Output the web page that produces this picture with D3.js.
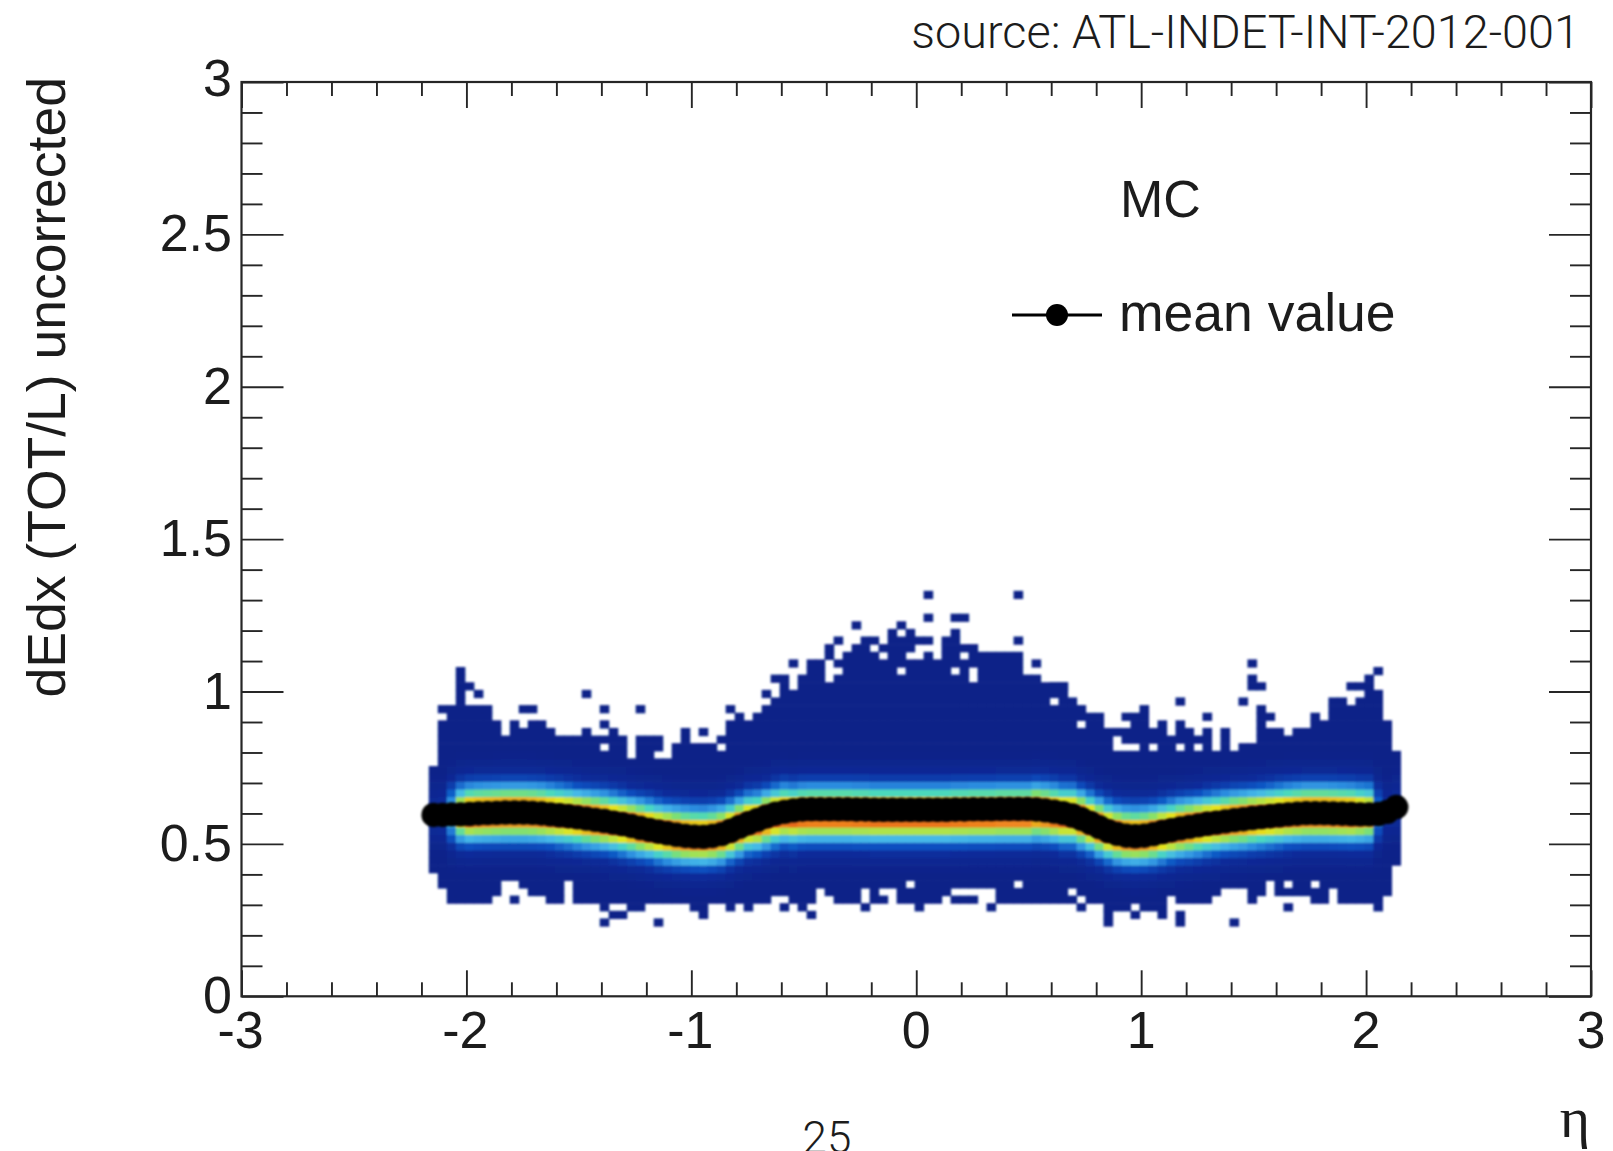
<!DOCTYPE html>
<html><head><meta charset="utf-8">
<script src="https://cdn.jsdelivr.net/npm/d3@7"></script>
<style>html,body{margin:0;padding:0;background:#fff;overflow:hidden}svg{display:block}text{font-family:"Liberation Sans",Arial,sans-serif;fill:#1c1c1c}</style>
</head><body><div id="c"></div>
<script>
// ---- data ----
const etaDomain=[-3,3], dedxDomain=[0,3];
const xMajor=[-3,-2,-1,0,1,2,3];
const xMinor=[-2.8,-2.6,-2.4,-2.2,-1.8,-1.6,-1.4,-1.2,-0.8,-0.6,-0.4,-0.2,0.2,0.4,0.6,0.8,1.2,1.4,1.6,1.8,2.2,2.4,2.6,2.8];
const yMajor=[0,0.5,1,1.5,2,2.5,3];
const yMinor=[0.1,0.2,0.3,0.4,0.6,0.7,0.8,0.9,1.1,1.2,1.3,1.4,1.6,1.7,1.8,1.9,2.1,2.2,2.3,2.4,2.6,2.7,2.8,2.9];
const yLabels=["0","0.5","1","1.5","2","2.5","3"];
const binStart=-2.166, binWidth=0.04, rowStart=0.0045, rowWidth=0.025;
// upper edge of the filled block per eta column, in rows
const topEdge=[30,36,38,43,38,38,38,36,34,36,35,36,36,35,34,34,34,35,34,32,35,34,31,34,34,34,31,33,35,33,33,33,34,36,37,36,37,38,39,42,40,42,44,44,46,45,45,46,47,45,46,48,47,48,47,45,44,47,48,46,46,45,45,45,45,45,42,42,41,41,41,39,38,37,37,35,35,35,37,38,35,36,34,36,35,34,35,32,35,32,33,33,38,35,35,34,35,35,37,36,39,39,38,39,40,40,36,32];
// lower edge of the filled block per eta column, in rows
const bottomEdge=[16,14,12,12,12,12,12,13,15,15,14,13,13,12,12,15,12,12,12,11,12,12,11,11,12,12,12,12,12,11,10,12,12,11,12,11,12,12,13,13,12,12,12,14,13,12,12,12,14,12,14,14,12,12,11,12,12,13,14,14,14,14,14,12,12,12,12,12,12,12,12,12,11,12,12,10,11,11,10,11,11,10,13,12,12,12,12,13,14,14,14,13,13,14,13,13,13,13,12,12,14,12,12,12,12,11,13,17];
// isolated filled cells [column,row]
const strayCells=[[1,37],[4,40],[5,39],[10,37],[11,37],[17,39],[19,37],[19,35],[19,33],[23,37],[30,34],[33,37],[37,39],[38,41],[40,43],[45,46],[47,48],[49,46],[52,48],[55,52],[55,49],[55,46],[58,49],[59,49],[65,52],[65,46],[67,43],
[76,34],[77,36],[83,38],[86,36],[90,38],[91,43],[91,41],[91,40],[92,40],[93,36],[102,40],[103,40],[104,41],[104,40],[105,42],[69,40],[70,40],
[9,12],[19,9],[20,10],[21,10],[25,9],[39,11],[41,11],[42,10],[48,11],[50,12],[58,12],[59,12],[60,12],[62,11],[75,9],[83,10],[83,9],[89,9],[91,12],[95,11]];
// white cells inside the filled block [column,row]
const holeCells=[[32,32],[25,31],[44,41],[44,42],[44,43],[45,44],[45,42],[50,44],[52,42],[53,44],[54,44],[54,45],[58,42],[59,44],[60,41],[60,42],[69,38],[72,35],[76,32],[76,33],[77,32],[78,32],[80,32],[83,32],[85,32],[72,12],[78,11],[65,14],[71,13],[93,14],[95,14],[98,14],[53,14]];
// mean value per column
const meanValues=[.595,.595,.597,.597,.598,.600,.601,.602,.603,.603,.603,.602,.600,.597,.594,.591,.587,.583,.579,.575,.570,.565,.559,.552,.546,.540,.535,.530,.526,.524,.523,.526,.532,.543,.556,.568,.579,.590,.599,.605,.610,.613,.614,.614,.614,.614,.614,.613,.613,.612,.612,.612,.612,.612,.612,.612,.612,.612,.613,.613,.614,.614,.614,.615,.615,.615,.615,.613,.610,.606,.601,.593,.582,.569,.555,.542,.533,.527,.525,.527,.532,.539,.545,.551,.556,.561,.566,.570,.574,.578,.581,.585,.588,.591,.594,.597,.599,.601,.601,.601,.600,.599,.598,.597,.597,.598,.605,.621];
// colour level against distance from the ridge, in rows
const profileDist=[0,.8,1.3,1.9,2.45,3.2,3.7,4.2,5.3,6.5,8];
const profileLevel=[1,.95,.85,.7,.58,.42,.33,.2,.08,.03,0];
// ridge offset below the mean, in rows [first column,last column,offset]
const ridgeOffsets=[[36,39,.3],[40,66,.6],[67,70,.3]];
// columns where the ridge fades at the ends [column,factor]
const bandFade=[[0,.1],[1,.12],[2,.45],[3,.85],[103,.95],[104,.9],[105,.3],[106,.1],[107,.1]];
const paletteLevels=[0,.08,.2,.33,.42,.5,.58,.7,.85,1];
const paletteColours=["#0c2388","#0a2a98","#0a50c0","#2d8fe0","#45b8e8","#48d8c0","#80e070","#e6e61e","#f08420","#d0140c"];
const legendLabel="mean value", tagLabel="MC", yTitle="dEdx (TOT/L) uncorrected", xTitle="η", source="source: ATL-INDET-INT-2012-001", pageNumber="25";

// ---- drawing ----
const W=1613,H=1151,L=241.5,R=1591,T=82,B=996.3;
const x=d3.scaleLinear().domain(etaDomain).range([L,R]);
const y=d3.scaleLinear().domain(dedxDomain).range([B,T]);
const svg=d3.select("#c").append("svg").attr("width",W).attr("height",H);
svg.append("defs").append("filter").attr("id","soft").attr("filterUnits","userSpaceOnUse")
  .attr("x",0).attr("y",0).attr("width",W).attr("height",H)
  .append("feGaussianBlur").attr("stdDeviation",0.8);
const level=d3.scaleLinear().domain(profileDist).range(profileLevel).clamp(true);
const colour=d3.scaleLinear().domain(paletteLevels).range(paletteColours).interpolate(d3.interpolateRgb);
const fade=new Map(bandFade);
const holes=new Set(holeCells.map(d=>d.join("_")));
const cells=[];
topEdge.forEach((t,i)=>{for(let r=bottomEdge[i];r<t;r++){if(!holes.has(i+"_"+r))cells.push([i,r]);}});
strayCells.forEach(c=>cells.push(c));
const rowMid=r=>rowStart+(r+.5)*rowWidth;
const offsetOf=i=>{const s=ridgeOffsets.find(o=>i>=o[0]&&i<=o[1]);return s?s[2]:0;};
function cellLevel([i,r]){
  const d=Math.abs(rowMid(r)-meanValues[i]+offsetOf(i)*rowWidth)/rowWidth;
  return level(d)*(fade.has(i)?fade.get(i):1);
}
const heat=svg.append("g").attr("filter","url(#soft)");
heat.selectAll("rect").data(cells).join("rect")
  .attr("x",d=>x(binStart+d[0]*binWidth)-.3)
  .attr("width",d=>x(binWidth)-x(0)+.6)
  .attr("y",d=>y(rowStart+(d[1]+1)*rowWidth)-.3)
  .attr("height",d=>y(0)-y(rowWidth)+.6)
  .attr("fill",d=>colour(cellLevel(d)));
const etaMid=i=>binStart+(i+.5)*binWidth;
const meanG=svg.append("g").attr("filter","url(#soft)");
meanG.append("path").attr("fill","none").attr("stroke","#000").attr("stroke-width",3)
  .attr("d",d3.line().x((d,i)=>x(etaMid(i))).y(d=>y(d))(meanValues));
meanG.selectAll("circle").data(meanValues).join("circle")
  .attr("cx",(d,i)=>x(etaMid(i))).attr("cy",d=>y(d)).attr("r",12.2).attr("fill","#000");

function styleAxis(g){g.select(".domain").remove();g.selectAll("line").attr("stroke","#262626").attr("stroke-width",1.9);g.selectAll("text").remove();}
svg.append("g").attr("transform",`translate(0,${B})`).call(d3.axisBottom(x).tickValues(xMajor).tickSizeInner(-26).tickSizeOuter(0)).call(styleAxis);
svg.append("g").attr("transform",`translate(0,${B})`).call(d3.axisBottom(x).tickValues(xMinor).tickSizeInner(-14).tickSizeOuter(0)).call(styleAxis);
svg.append("g").attr("transform",`translate(0,${T})`).call(d3.axisTop(x).tickValues(xMajor).tickSizeInner(-26).tickSizeOuter(0)).call(styleAxis);
svg.append("g").attr("transform",`translate(0,${T})`).call(d3.axisTop(x).tickValues(xMinor).tickSizeInner(-14).tickSizeOuter(0)).call(styleAxis);
svg.append("g").attr("transform",`translate(${L},0)`).call(d3.axisLeft(y).tickValues(yMajor).tickSizeInner(-42).tickSizeOuter(0)).call(styleAxis);
svg.append("g").attr("transform",`translate(${L},0)`).call(d3.axisLeft(y).tickValues(yMinor).tickSizeInner(-21).tickSizeOuter(0)).call(styleAxis);
svg.append("g").attr("transform",`translate(${R},0)`).call(d3.axisRight(y).tickValues(yMajor).tickSizeInner(-42).tickSizeOuter(0)).call(styleAxis);
svg.append("g").attr("transform",`translate(${R},0)`).call(d3.axisRight(y).tickValues(yMinor).tickSizeInner(-21).tickSizeOuter(0)).call(styleAxis);
svg.append("rect").attr("x",L).attr("y",T).attr("width",R-L).attr("height",B-T).attr("fill","none").attr("stroke","#262626").attr("stroke-width",2.2);

svg.selectAll(".xl").data(xMajor).join("text").attr("class","xl").attr("x",d=>x(d)-(d<0?1:0)).attr("y",1048)
  .attr("text-anchor","middle").attr("font-size",52).text(d=>String(d));
svg.selectAll(".yl").data(yMajor).join("text").attr("class","yl").attr("x",232).attr("y",d=>y(d)+(d===3?14:17))
  .attr("text-anchor","end").attr("font-size",52).text((d,i)=>yLabels[i]);
svg.append("text").attr("transform","translate(65,77) rotate(-90)").attr("text-anchor","end").attr("font-size",53.5).text(yTitle);
svg.append("text").attr("x",1120).attr("y",217).attr("font-size",52).text(tagLabel);
svg.append("text").attr("x",1119).attr("y",331).attr("font-size",53.5).text(legendLabel);
svg.append("line").attr("x1",1012).attr("x2",1102).attr("y1",315).attr("y2",315).attr("stroke","#000").attr("stroke-width",3.2);
svg.append("circle").attr("cx",1057).attr("cy",315).attr("r",11).attr("fill","#000");
svg.append("text").attr("x",1580).attr("y",48).attr("text-anchor","end").style("font-family","Roboto").attr("font-weight",300).attr("font-size",46.8).text(source);
svg.append("text").attr("x",1575).attr("y",1137).attr("text-anchor","middle").style("font-family","'Liberation Serif'").attr("font-size",58).text(xTitle);
svg.append("text").attr("x",827).attr("y",1153).attr("text-anchor","middle").style("font-family","Roboto").attr("font-weight",300).attr("font-size",44).text(pageNumber);
</script></body></html>
